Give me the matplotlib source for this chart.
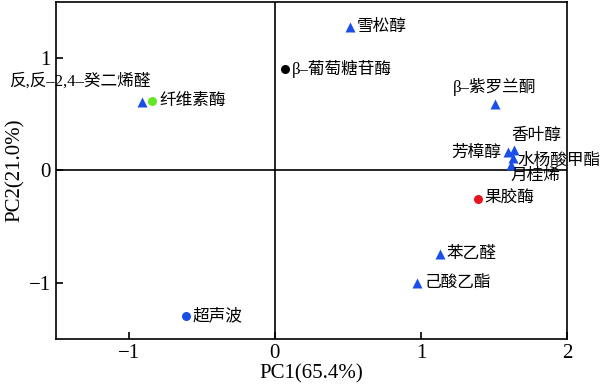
import numpy as np
import matplotlib
matplotlib.use("Agg")
import matplotlib.pyplot as plt

plt.rcParams['font.family'] = ['Liberation Serif', 'Noto Sans CJK SC']
plt.rcParams['axes.unicode_minus'] = True

# variables (triangles)
var_names = ["雪松醇", "反,反–2,4–癸二烯醛", "β–紫罗兰酮", "香叶醇", "芳樟醇",
             "水杨酸甲酯", "月桂烯", "苯乙醛", "己酸乙酯"]
var_x = [0.515, -0.91, 1.505, 1.64, 1.595, 1.63, 1.62, 1.13, 0.975]
var_y = [1.28, 0.61, 0.59, 0.185, 0.16, 0.11, 0.05, -0.74, -1.0]

# treatments (circles)
trt_names = ["β–葡萄糖苷酶", "纤维素酶", "果胶酶", "超声波"]
trt_x = [0.07, -0.84, 1.39, -0.61]
trt_y = [0.90, 0.62, -0.25, -1.30]
trt_colors = ["black", "#66e626", "#e8141e", "#1a4ee8"]

# label offsets in points (dx, dy, ha, va)
var_off = [(5, 0, "left", "center"), (6, 9, "right", "bottom"), (0, 6, "center", "bottom"),
           (-2, 4, "left", "bottom"), (-5, 0, "right", "center"), (3, -2, "left", "center"),
           (-1, -2, "left", "top"), (5, 0, "left", "center"), (5, 0, "left", "center")]
trt_off = [(5, 0, "left", "center"), (5, 0, "left", "center"),
           (5, 0, "left", "center"), (5, 0, "left", "center")]

fig = plt.figure(figsize=(6, 3.9), dpi=100)
ax = fig.add_axes([0.093, 0.131, 0.852, 0.864])

ax.axhline(0, color="black", lw=1.2, zorder=1)
ax.axvline(0, color="black", lw=1.2, zorder=1)

ax.plot(var_x, var_y, "^", color="#1a4ee8", ms=7, mec="none", zorder=3)
for x, y, c in zip(trt_x, trt_y, trt_colors):
    ax.plot(x, y, "o", color=c, ms=6.5, mec="none", zorder=3)

for name, x, y, (dx, dy, ha, va) in zip(var_names, var_x, var_y, var_off):
    ax.annotate(name, (x, y), xytext=(dx, dy), textcoords="offset points",
                ha=ha, va=va, fontsize=12, annotation_clip=False)
for name, x, y, (dx, dy, ha, va) in zip(trt_names, trt_x, trt_y, trt_off):
    ax.annotate(name, (x, y), xytext=(dx, dy), textcoords="offset points",
                ha=ha, va=va, fontsize=12, annotation_clip=False)

ax.set_xlim(-1.5, 2)
ax.set_ylim(-1.5, 1.5)
ax.set_xticks([-1, 0, 1, 2])
ax.set_yticks([-1, 0, 1])
ax.tick_params(direction="in", length=5, width=1.2, labelsize=15, top=False, right=False)
for s in ax.spines.values():
    s.set_linewidth(1.2)

ax.set_xlabel("PC1(65.4%)", fontsize=15, labelpad=1)
ax.set_ylabel("PC2(21.0%)", fontsize=15, labelpad=3)

fig.savefig("out.png", dpi=100)
